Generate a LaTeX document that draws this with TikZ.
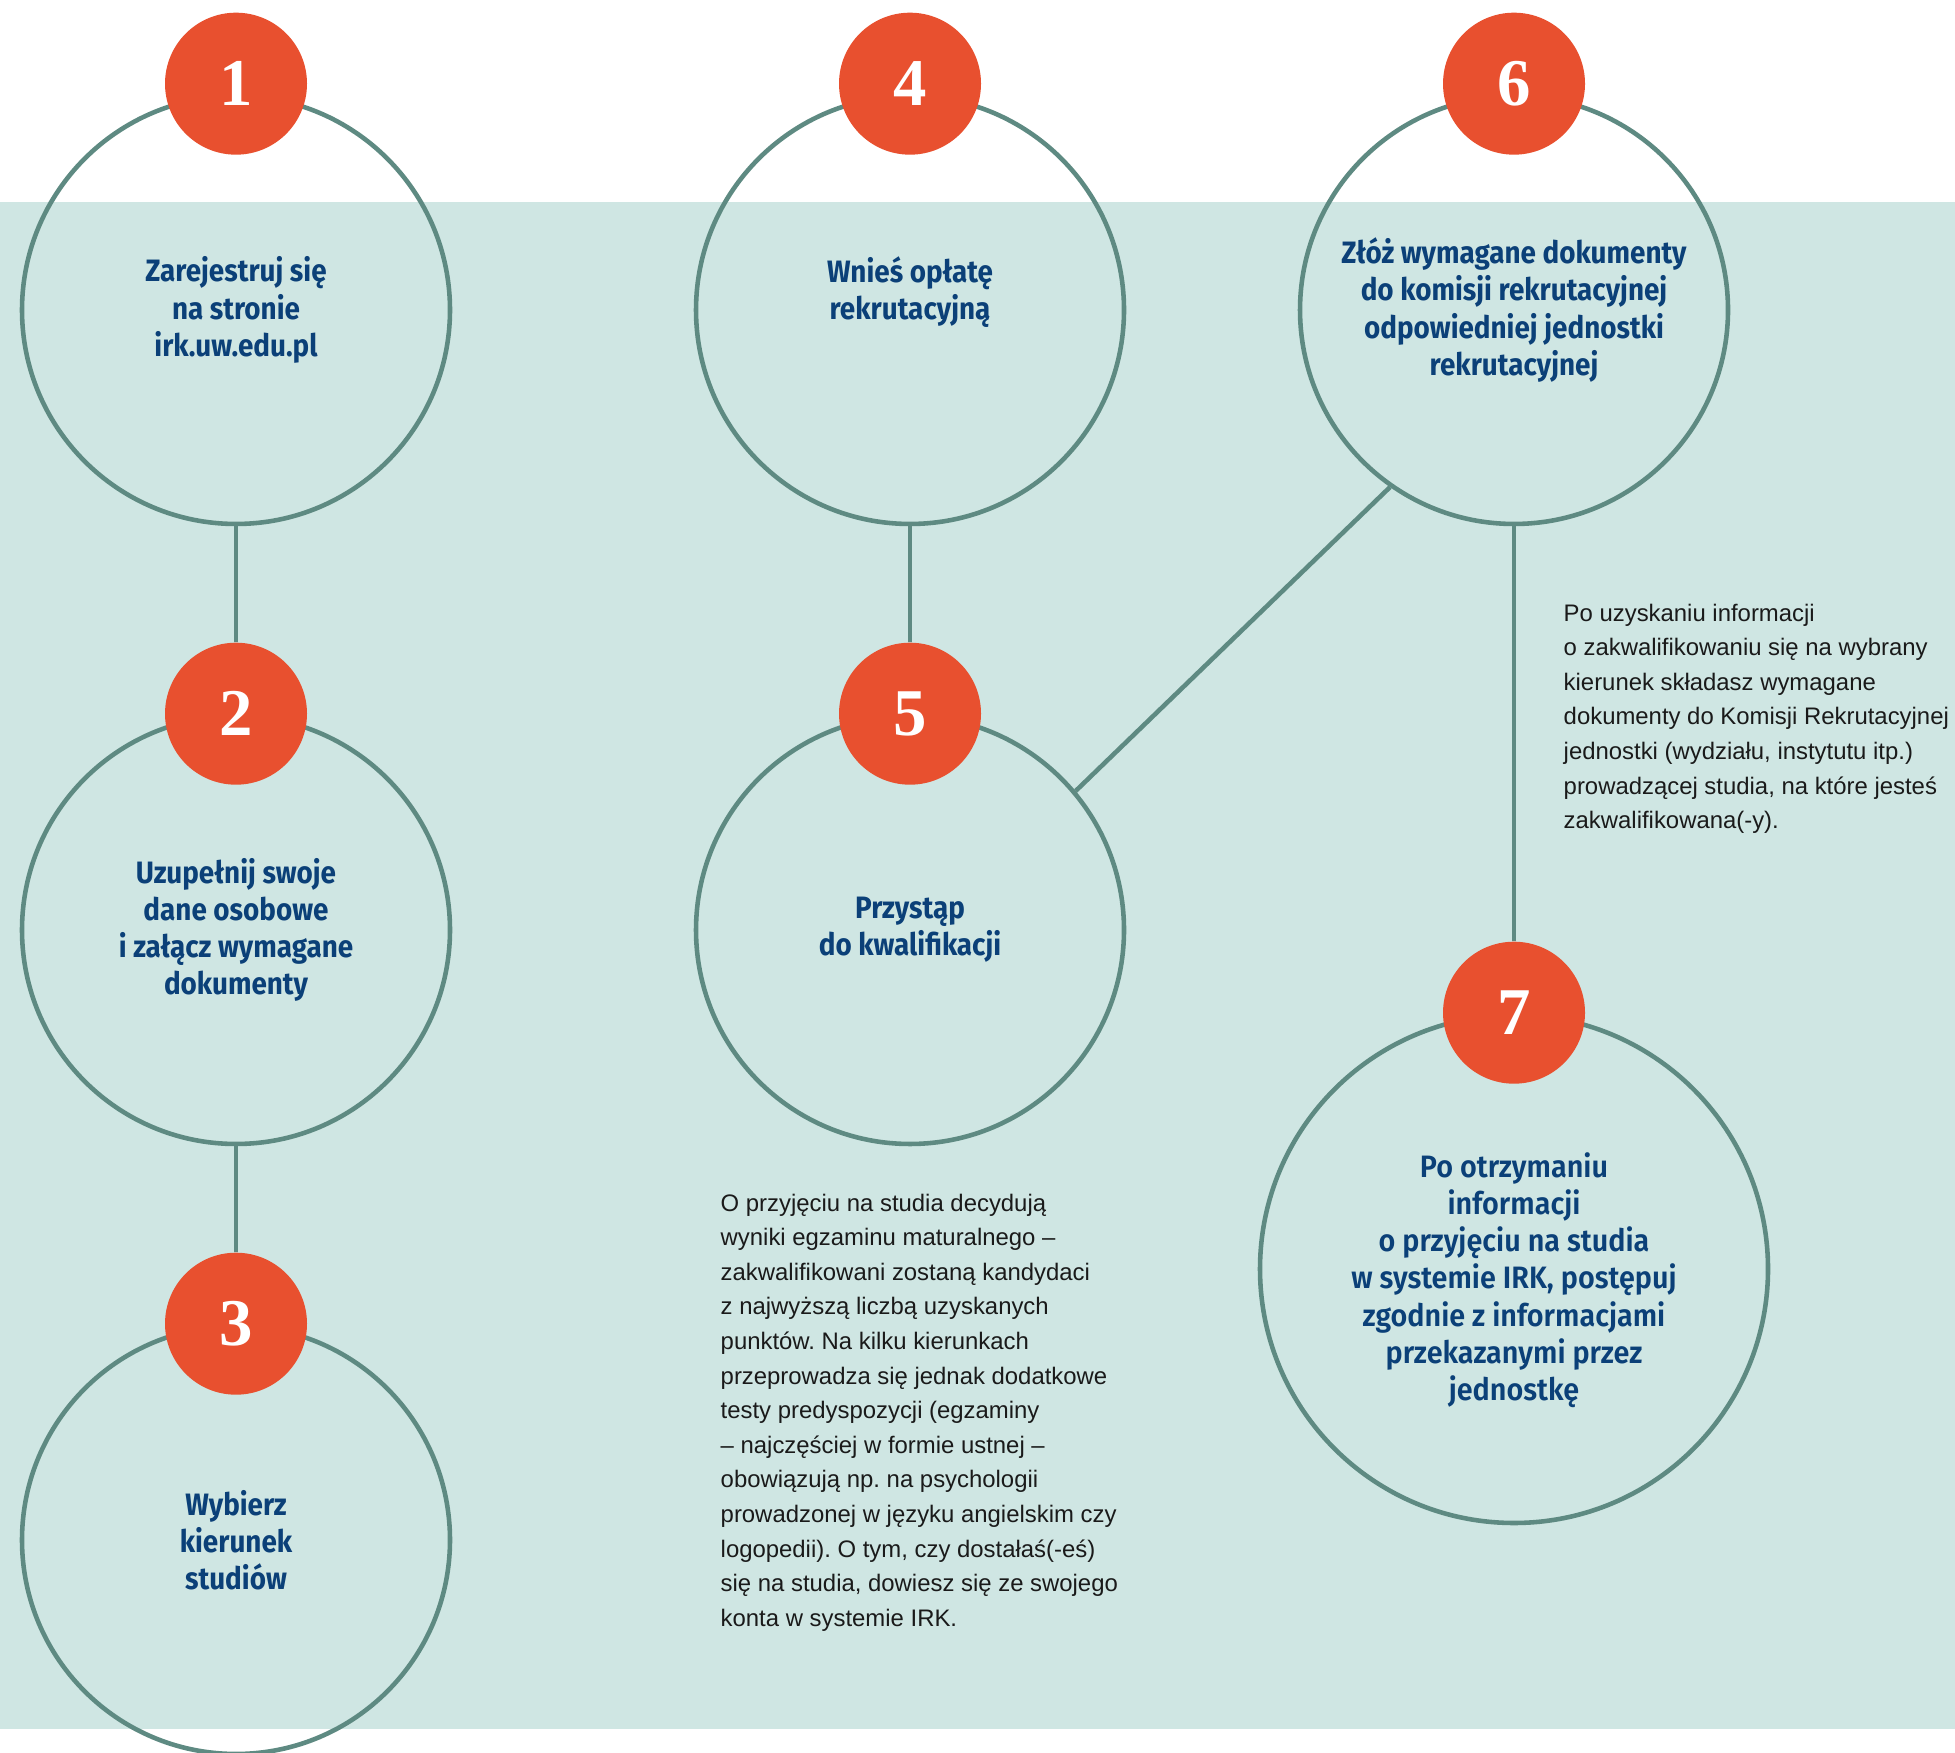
\documentclass[tikz,border=0pt]{standalone}
\usepackage{fontspec}
\setmainfont{Liberation Sans}
\newfontfamily\stepfont[FakeStretch=0.9]{Fira Sans}
\newfontfamily\widefont[FakeStretch=0.93, BoldFont={Fira Sans SemiBold}]{Fira Sans}
\newfontfamily\numfont{Liberation Serif}
\definecolor{bandteal}{RGB}{207, 230, 227}
\definecolor{ringgreen}{RGB}{94, 138, 130}
\definecolor{stepred}{RGB}{232, 80, 47}
\definecolor{stepblue}{RGB}{11, 64, 120}
\definecolor{notegray}{RGB}{26, 26, 26}
\usetikzlibrary{positioning, calc}
\frenchspacing

\begin{document}
\begin{tikzpicture}[
  steptext/.style={align=center, text=stepblue, font=\stepfont\bfseries\fontsize{8.8}{10.6}\selectfont},
  ring/.style={circle, draw=ringgreen, line width=1.3pt, minimum size=4.28cm, inner sep=0pt, steptext},
  badge/.style={circle, fill=stepred, minimum size=1.42cm, inner sep=0pt, text=white, font=\numfont\bfseries\fontsize{19}{19}\selectfont},
  link/.style={draw=ringgreen, line width=1.3pt},
  note/.style={anchor=north west, inner sep=0pt, align=left, text=notegray, font=\fontsize{6.8}{9.85}\selectfont}
]
  \useasboundingbox (0, 0) rectangle (19.55, 17.53);
  \fill[white] (0, 0) rectangle (19.55, 17.53);

  % Background band
  \fill[bandteal] (0, 0.24) rectangle (19.55, 15.51);

  % Steps
  \node[ring] (c1) at (2.36, 14.43) {Zarejestruj się\\na stronie\\irk.uw.edu.pl};
  \node[ring] (c2) at (2.36, 8.23) {Uzupełnij swoje\\dane osobowe\\i załącz wymagane\\dokumenty};
  \node[ring] (c3) at (2.36, 2.13) {Wybierz\\kierunek\\studiów};
  \node[ring] (c4) at (9.10, 14.43) {};
  \node[steptext] (t4) at ([yshift=0.18cm]c4.center) {Wnieś opłatę\\rekrutacyjną};
  \node[ring] (c5) at (9.10, 8.23) {Przystąp\\do kwalifikacji};
  \node[ring] (c6) at (15.14, 14.43) {Złóż wymagane dokumenty\\do komisji rekrutacyjnej\\odpowiedniej jednostki\\rekrutacyjnej};
  \node[ring, minimum size=5.08cm] (c7) at (15.14, 4.84) {};
  \node[steptext, font=\widefont\bfseries\fontsize{8.8}{10.6}\selectfont] (t7) at ([yshift=-0.11cm]c7.center) {Po otrzymaniu\\informacji\\o przyjęciu na studia\\w systemie IRK, postępuj\\zgodnie z informacjami\\przekazanymi przez\\jednostkę};

  % Numbers
  \node[badge] (n1) at ([yshift=0.1cm]c1.north) {1};
  \node[badge] (n2) at (c2.north) {2};
  \node[badge] (n3) at (c3.north) {3};
  \node[badge] (n4) at ([yshift=0.1cm]c4.north) {4};
  \node[badge] (n5) at (c5.north) {5};
  \node[badge] (n6) at ([yshift=0.1cm]c6.north) {6};
  \node[badge] (n7) at (c7.north) {7};

  % Connectors
  \draw[link] (c1) -- (n2);
  \draw[link] (c2) -- (n3);
  \draw[link] (c4) -- (n5);
  \draw[link] (c6) -- (n7);
  \draw[link] (c6.235) -- (c5.40);

  % Notes
  \node[note] (note6) at (15.63, 11.50) {Po uzyskaniu informacji\\o zakwalifikowaniu się na wybrany\\kierunek składasz wymagane\\dokumenty do Komisji Rekrutacyjnej\\jednostki (wydziału, instytutu itp.)\\prowadzącej studia, na które jesteś\\zakwalifikowana(-y).};
  \node[note] (note5) at (7.20, 5.60) {O przyjęciu na studia decydują\\wyniki egzaminu maturalnego –\\zakwalifikowani zostaną kandydaci\\z najwyższą liczbą uzyskanych\\punktów. Na kilku kierunkach\\przeprowadza się jednak dodatkowe\\testy predyspozycji (egzaminy\\– najczęściej w formie ustnej –\\obowiązują np. na psychologii\\prowadzonej w języku angielskim czy\\logopedii). O tym, czy dostałaś(-eś)\\się na studia, dowiesz się ze swojego\\konta w systemie IRK.};
\end{tikzpicture}
\end{document}
